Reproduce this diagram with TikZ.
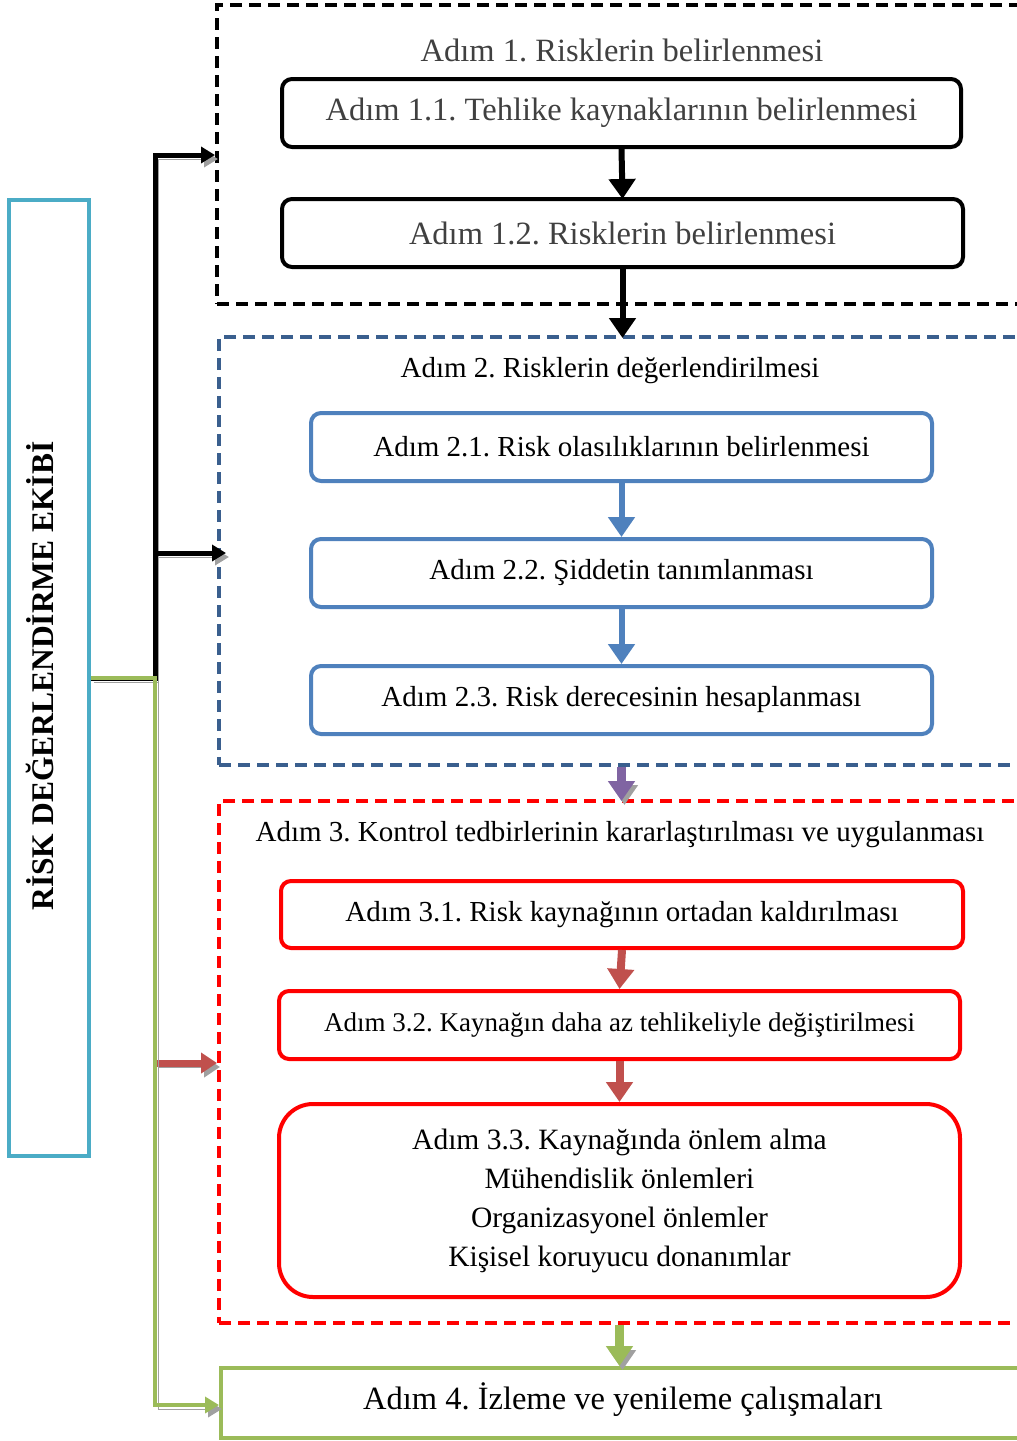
\documentclass[tikz,border=0pt]{standalone}
\usepackage{fontspec}
\setmainfont{Liberation Serif}
\usetikzlibrary{arrows.meta}
\definecolor{cyanb}{HTML}{4BACC6}
\definecolor{blueb}{HTML}{4F81BD}
\definecolor{bluedash}{HTML}{3A5F8E}
\definecolor{redl}{HTML}{C0504D}
\definecolor{redb}{HTML}{FF0000}
\definecolor{greenl}{HTML}{9BBB59}
\definecolor{purplel}{HTML}{8064A2}
\definecolor{graytext}{HTML}{404040}
\definecolor{shadowc}{HTML}{A0A0A0}
\frenchspacing
\begin{document}
\begin{tikzpicture}[x=1pt,y=-1pt,
  dbox/.style={draw, line width=4pt, dash pattern=on 12pt off 7pt, minimum width=811pt, inner sep=0pt},
  sbox/.style={draw, line width=4pt, rounded corners=10pt, inner sep=0pt, minimum height=68pt},
  ftA/.style={font=\fontsize{32.5}{38}\selectfont},
  ftB/.style={font=\fontsize{29}{34}\selectfont},
  ftC/.style={font=\fontsize{27}{32}\selectfont},
  shad/.style={preaction={draw=shadowc, transform canvas={shift={(3,4)}}}},
  vtip/.style={-{Triangle[length=20pt,width=26pt]}},
  htip/.style={-{Triangle[length=14pt,width=16pt]}},
]
\useasboundingbox (0,0) rectangle (1017,1441);

% team box
\node[draw=cyanb, line width=4pt, minimum width=80pt, minimum height=956pt, inner sep=0pt] (team) at (49,678) {};
\node[rotate=90, font=\bfseries\fontsize{31.5}{36}\selectfont] (teamtxt) at (40,676) {RİSK DEĞERLENDİRME EKİBİ};

% step 1
\node[dbox, draw=black, minimum width=813pt, minimum height=299pt] (s1) at (623.5,154.5) {};
\node[ftA, text=graytext] (t1) at (622,50) {Adım 1. Risklerin belirlenmesi};
\node[sbox, draw=black, minimum width=679pt, ftA, text=graytext] (n11) at (621.5,113) {Adım 1.1. Tehlike kaynaklarının belirlenmesi};
\node[sbox, draw=black, minimum width=681pt, ftA, text=graytext] (n12) at (622.5,233) {Adım 1.2. Risklerin belirlenmesi};

% step 2
\node[dbox, draw=bluedash, minimum height=428pt] (s2) at (624.5,551) {};
\node[ftB] (t2) at (610,371) {Adım 2. Risklerin değerlendirilmesi};
\node[sbox, draw=blueb, minimum width=621pt, ftB] (n21) at (621.5,447) {Adım 2.1. Risk olasılıklarının belirlenmesi};
\node[sbox, draw=blueb, minimum width=621pt, ftB] (n22) at (621.5,573) {Adım 2.2. Şiddetin tanımlanması};
\node[sbox, draw=blueb, minimum width=621pt, ftB] (n23) at (621.5,700) {Adım 2.3. Risk derecesinin hesaplanması};

% step 3
\node[dbox, draw=redb, minimum height=522pt] (s3) at (624.5,1062) {};
\node[ftB] (t3) at (620,835) {Adım 3. Kontrol tedbirlerinin kararlaştırılması ve uygulanması};
\node[sbox, draw=redb, minimum width=682pt, minimum height=67pt, ftB] (n31) at (622,914.5) {Adım 3.1. Risk kaynağının ortadan kaldırılması};
\node[sbox, draw=redb, minimum width=681pt, ftC] (n32) at (619.5,1025) {Adım 3.2. Kaynağın daha az tehlikeliyle değiştirilmesi};
\node[sbox, draw=redb, rounded corners=34pt, minimum width=681pt, minimum height=193pt, align=center, font=\fontsize{29.5}{39}\selectfont] (n33) at (619.5,1200.5) {Adım 3.3. Kaynağında önlem alma\\Mühendislik önlemleri\\Organizasyonel önlemler\\Kişisel koruyucu donanımlar};

% step 4
\node[draw=greenl, line width=4pt, minimum width=809pt, minimum height=70pt, inner sep=0pt] (s4) at (625.5,1403) {};
\node[ftA] (t4) at (623,1400) {Adım 4. İzleme ve yenileme çalışmaları};

% vertical arrows
\draw[line width=6pt, vtip, shorten >=-2pt] (n11.south) -- (n12.north);
\draw[line width=6pt, vtip, shorten >=-3pt] (n12.south) -- (n12.south |- s2.north);
\draw[blueb, line width=6pt, vtip] (n21.south) -- (n22.north);
\draw[blueb, line width=6pt, vtip] (n22.south) -- (n23.north);
\draw[purplel, line width=9pt, shad, vtip, shorten >=-2pt] (n23.south |- s2.south) -- (n23.south |- s3.north);
\draw[redl, line width=8pt, vtip] (n31.south) -- (n32.north);
\draw[redl, line width=8pt, vtip] (n32.south) -- (n33.north);
\draw[greenl, line width=9pt, shad, vtip] (n33.south |- s3.south) -- (n33.south |- s4.north);

% left connectors
\coordinate (b1) at (155,155);
\coordinate (b2) at (155,553);
\coordinate (r1) at (155,1063);
\coordinate (g1) at (155,1405);
\draw[line width=5pt, shad, htip] (team.east) -| (b1) -- (b1 -| s1.west);
\draw[line width=5pt, shad, htip, shorten >=-9pt] (b2) -- (b2 -| s2.west);
\draw[redl, line width=7pt, shad, -{Triangle[length=16pt,width=20pt]}] (r1) -- (r1 -| s3.west);
\draw[greenl, line width=4.5pt, shad, htip] (team.east) -| (g1) -- (g1 -| s4.west);
\end{tikzpicture}
\end{document}
